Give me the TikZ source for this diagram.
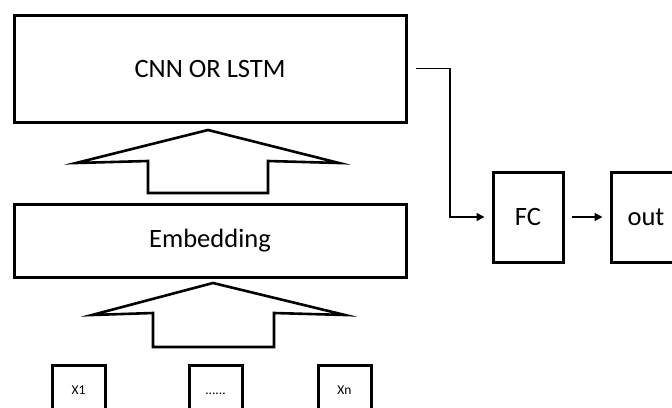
\documentclass[tikz,border=0pt]{standalone}
\usepackage{fontspec}
\setmainfont{Carlito}
\usetikzlibrary{arrows.meta,positioning}

\begin{document}
\begin{tikzpicture}[x=1pt,y=-1pt,
    layerbox/.style={draw,line width=3pt,minimum width=392pt,inner sep=0pt,font=\fontsize{26.5}{30}\selectfont},
    smallbox/.style={draw,line width=3pt,minimum width=70pt,minimum height=90pt,inner sep=0pt,font=\fontsize{26.5}{30}\selectfont},
    tokbox/.style={draw,line width=3pt,minimum width=53pt,minimum height=50pt,inner sep=0pt,
      text height=9pt,text depth=0pt,font=\fontsize{13.5}{15}\selectfont},
    blockarrow/.style={draw,line width=2.6pt,fill=white},
    link/.style={-{Triangle[length=8pt,width=8pt]},line width=1.5pt}]
  \clip (0,0) rectangle (672,407);
  \fill[white] (0,0) rectangle (672,407);
  % layers
  \node[layerbox,minimum height=107pt] (cnn) at (210,68.5) {CNN OR LSTM};
  \node[layerbox,minimum height=73pt] (emb) at (210,240.5) {Embedding};
  % block arrows between layers
  \draw[blockarrow] (208,130) -- (339,163) -- (268,161) -- (268,193)
     -- (148,193) -- (148,161) -- (76,163) -- cycle;
  \draw[blockarrow] (213,283) -- (345,315) -- (274,313) -- (274,347)
     -- (153,347) -- (153,313) -- (92,315) -- cycle;
  % input tokens
  \node[tokbox] (x1) at (78.5,390) {X1};
  \node[tokbox] (xdots) at (215.5,390) {......};
  \node[tokbox] (xn) at (344.5,390) {Xn};
  % head
  \node[smallbox] (fc) at (528,217) {FC};
  \node[smallbox] (out) at (646,217) {out};
  \coordinate (bend) at (450,68.5);
  \draw[link,shorten >=7pt] ([xshift=8pt]cnn.east) -- (bend) |- (fc.west);
  \draw[link,shorten <=7pt,shorten >=7pt] (fc) -- (out);
\end{tikzpicture}
\end{document}
